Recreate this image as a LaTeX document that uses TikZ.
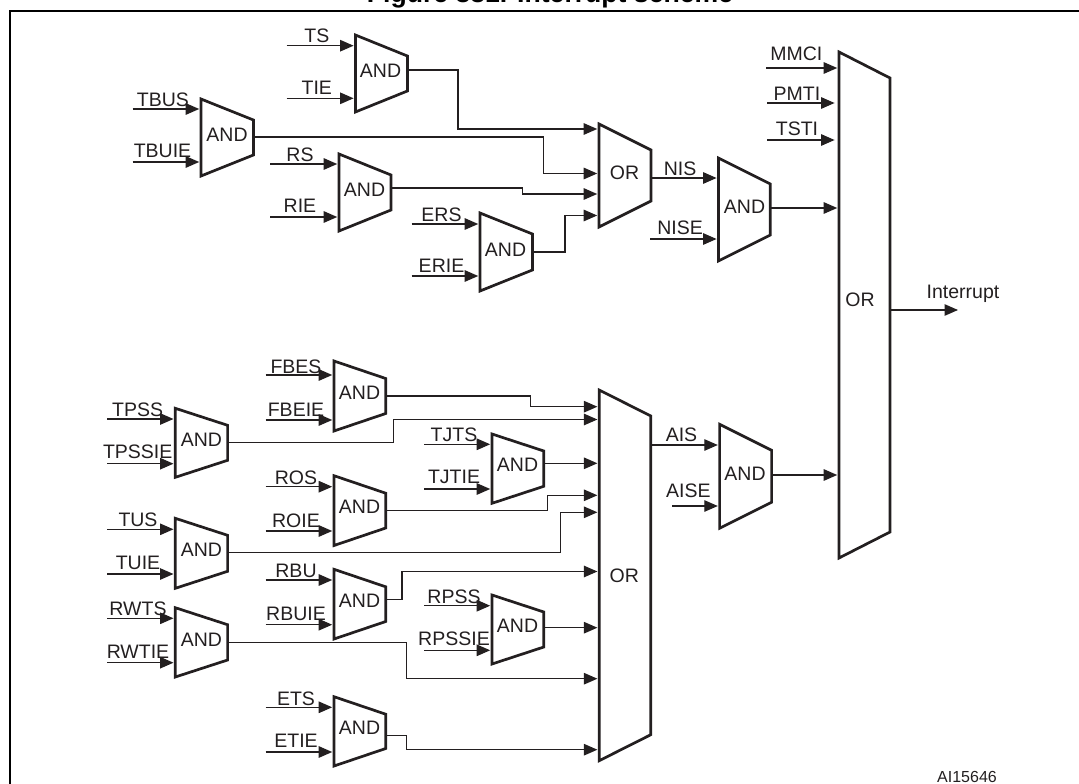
\documentclass[tikz,border=0pt]{standalone}
\usepackage{fontspec}
\setmainfont{Liberation Sans}
\usetikzlibrary{arrows.meta}
\definecolor{ink}{HTML}{231F20}
\tikzset{
  wire/.style={draw=ink,line width=1.2pt},
  sig/.style={wire,-{Triangle[length=13.5pt,width=11.5pt]}},
  gatebox/.style={draw=ink,line width=2.7pt,line join=miter},
  tag/.style={text=ink,inner sep=0pt,font=\fontsize{19.5}{20}\selectfont},
}
\newcommand{\gate}[9]{
  \draw[gatebox] (#3,#5) -- (#4,{#5+#7}) -- (#4,{#6-#7}) -- (#3,#6) -- cycle;
  \node[tag] (#1) at (#8,#9) {#2};
}
\newcommand{\insig}[7]{
  \node[tag] (#1) at (#3,#4) {#2};
  \coordinate (#1-a) at (#5,#7);
  \coordinate (#1-b) at (#6,#7);
  \draw[sig] (#1-a) -- (#1-b);
}
\begin{document}
\begin{tikzpicture}[x=1pt,y=-1pt]
\useasboundingbox (0,0) rectangle (1079,784);
\node[text=black,anchor=base,inner sep=0pt,font=\fontsize{26.6}{27}\selectfont\bfseries] (title) at (550,2.5) {Figure 331. Interrupt scheme};
\coordinate (fa) at (10,784);
\coordinate (fb) at (10,11);
\coordinate (fc) at (1079,11);
\draw[draw=black,line width=1.8pt] (fa) -- (fb) -- (fc);
% upper group
\gate{gts}{AND}{355.4}{407.4}{35}{112}{21}{380.5}{71}
\insig{TS}{TS}{316.8}{36}{286.5}{353.6}{45.7}
\insig{TIE}{TIE}{316.8}{87.3}{286.5}{353.6}{98.3}
\gate{gtbus}{AND}{201}{253.4}{99}{176}{21}{227}{135}
\insig{TBUS}{TBUS}{163}{100}{132.6}{199.2}{109}
\insig{TBUIE}{TBUIE}{162.5}{151}{132.6}{199.2}{162}
\gate{grs}{AND}{339}{391}{154}{231}{21}{364.5}{190}
\insig{RS}{RS}{300}{155}{270}{337.2}{164}
\insig{RIE}{RIE}{300}{206}{270}{337.2}{217}
\gate{gers}{AND}{480}{532.4}{213}{291}{21}{505.5}{249.5}
\insig{ERS}{ERS}{441.5}{215}{411.5}{478.2}{224}
\insig{ERIE}{ERIE}{441.5}{265.7}{411.5}{478.2}{276}
\gate{orup}{OR}{599}{651}{124}{227}{26}{624.5}{173}
\coordinate (gts-o) at (407.4,70);
\coordinate (gtbus-o) at (253.4,137);
\coordinate (grs-o) at (391,188);
\coordinate (gers-o) at (532.4,252);
\coordinate (orup-1) at (597.2,129);
\coordinate (orup-2) at (597.2,173.5);
\coordinate (orup-3) at (597.2,194);
\coordinate (orup-4) at (597.2,215.5);
\draw[sig] (gts-o) -| (458,129) -- (orup-1);
\draw[sig] (gtbus-o) -| (543.4,173.5) -- (orup-2);
\draw[sig] (grs-o) -| (522.4,194) -- (orup-3);
\draw[sig] (gers-o) -| (565,215.5) -- (orup-4);
\coordinate (orup-o) at (651,178);
\gate{gnis}{AND}{718.4}{770.3}{158}{261}{26}{744.5}{207}
\insig{NIS}{NIS}{680}{168.7}{651}{716.6}{178}
\insig{NISE}{NISE}{680}{228}{650}{716.6}{239}
% lower group
\gate{gfbes}{AND}{334}{385.7}{361}{431}{17.5}{359.5}{393}
\insig{FBES}{FBES}{296}{366.7}{265.5}{332.2}{375}
\insig{FBEIE}{FBEIE}{296}{410}{265.5}{332.2}{420}
\gate{gtpss}{AND}{175.3}{227.6}{408.3}{477.3}{17}{201.4}{440}
\insig{TPSS}{TPSS}{137.7}{409.3}{107.4}{173.5}{419}
\insig{TPSSIE}{TPSSIE}{137.7}{452}{107.4}{173.5}{463.7}
\gate{gtjts}{AND}{492}{543.8}{434}{503.3}{17}{517.5}{465}
\insig{TJTS}{TJTS}{454}{435}{424}{490.2}{444.3}
\insig{TJTIE}{TJTIE}{454}{477.3}{424}{490.2}{489}
\gate{gros}{AND}{334}{385.7}{475.7}{545.5}{17.5}{359.5}{507}
\insig{ROS}{ROS}{296}{477.3}{265.5}{332.2}{486.7}
\insig{ROIE}{ROIE}{296}{520.3}{265.5}{332.2}{531}
\gate{gtus}{AND}{175.3}{227.6}{518.3}{588.3}{17}{201.4}{550}
\insig{TUS}{TUS}{138}{520}{107.4}{173.5}{529.3}
\insig{TUIE}{TUIE}{138}{562.7}{107.4}{173.5}{574}
\gate{grbu}{AND}{334}{385.7}{569.3}{639}{17.5}{359.5}{600.5}
\insig{RBU}{RBU}{296}{571}{265.5}{332.2}{580}
\insig{RBUIE}{RBUIE}{296}{614}{265.5}{332.2}{624.7}
\gate{grpss}{AND}{492}{543.8}{595}{664}{17}{517.5}{626}
\insig{RPSS}{RPSS}{454}{596.7}{424}{490.2}{605.7}
\insig{RPSSIE}{RPSSIE}{454}{638.3}{424}{490.2}{650.3}
\gate{grwts}{AND}{175.3}{227.6}{607.7}{677}{17}{201.4}{639.5}
\insig{RWTS}{RWTS}{138}{608.7}{107.4}{173.5}{618.3}
\insig{RWTIE}{RWTIE}{138}{651.7}{107.4}{173.5}{662.7}
\gate{gets}{AND}{334}{385.7}{696.7}{766}{17.5}{359.5}{728}
\insig{ETS}{ETS}{296}{699}{265.5}{332.2}{707.3}
\insig{ETIE}{ETIE}{296}{740.7}{265.5}{332.2}{752}
\gate{orlow}{OR}{599.2}{650.8}{390}{760.7}{26}{624.3}{576}
\coordinate (gfbes-o) at (385.7,396);
\coordinate (gtpss-o) at (227.6,442.7);
\coordinate (gtjts-o) at (543.8,463.3);
\coordinate (gros-o) at (385.7,510.7);
\coordinate (gtus-o) at (227.6,552.7);
\coordinate (grbu-o) at (385.7,599.3);
\coordinate (grpss-o) at (543.8,627.7);
\coordinate (grwts-o) at (227.6,642.3);
\coordinate (gets-o) at (385.7,735.3);
\coordinate (orlow-1) at (597.4,406.7);
\coordinate (orlow-2) at (597.4,419.5);
\coordinate (orlow-3) at (597.4,463.3);
\coordinate (orlow-4) at (597.4,495.3);
\coordinate (orlow-5) at (597.4,512.3);
\coordinate (orlow-6) at (597.4,571.5);
\coordinate (orlow-7) at (597.4,627.7);
\coordinate (orlow-8) at (597.4,678.7);
\coordinate (orlow-9) at (597.4,749.7);
\draw[sig] (gfbes-o) -| (530.8,406.7) -- (orlow-1);
\draw[sig] (gtpss-o) -| (393.6,419.5) -- (orlow-2);
\draw[sig] (gtjts-o) -- (orlow-3);
\draw[sig] (gros-o) -| (547.7,495.3) -- (orlow-4);
\draw[sig] (gtus-o) -| (560.7,512.3) -- (orlow-5);
\draw[sig] (grbu-o) -| (402,571.5) -- (orlow-6);
\draw[sig] (grpss-o) -- (orlow-7);
\draw[sig] (grwts-o) -| (406.7,678.7) -- (orlow-8);
\draw[sig] (gets-o) -| (406.7,749.7) -- (orlow-9);
\gate{gais}{AND}{719.6}{771.6}{424.3}{528.3}{26}{745}{474}
\insig{AIS}{AIS}{681.5}{435}{650.8}{717.8}{445}
\insig{AISE}{AISE}{688.4}{490.7}{672}{717.8}{506}
% final stage
\gate{orall}{OR}{839}{890}{52}{558}{26}{860}{300}
\insig{MMCI}{MMCI}{796.4}{54}{766}{837.2}{68}
\insig{PMTI}{PMTI}{797}{94}{767}{834.6}{103}
\insig{TSTI}{TSTI}{797}{129}{767}{834.6}{140}
\coordinate (gnis-o) at (770.3,208);
\coordinate (gais-o) at (771.6,475);
\coordinate (orall-1) at (837.2,208);
\coordinate (orall-2) at (837.2,475);
\coordinate (orall-o) at (890,310);
\coordinate (irq) at (958,310);
\draw[sig] (gnis-o) -- (orall-1);
\draw[sig] (gais-o) -- (orall-2);
\draw[sig] (orall-o) -- (irq);
\node[tag,anchor=base] (irqtext) at (963,298) {Interrupt};
\node[text=ink,inner sep=0pt,font=\fontsize{16}{17}\selectfont] (code) at (967,776.7) {AI15646};
\end{tikzpicture}
\end{document}
